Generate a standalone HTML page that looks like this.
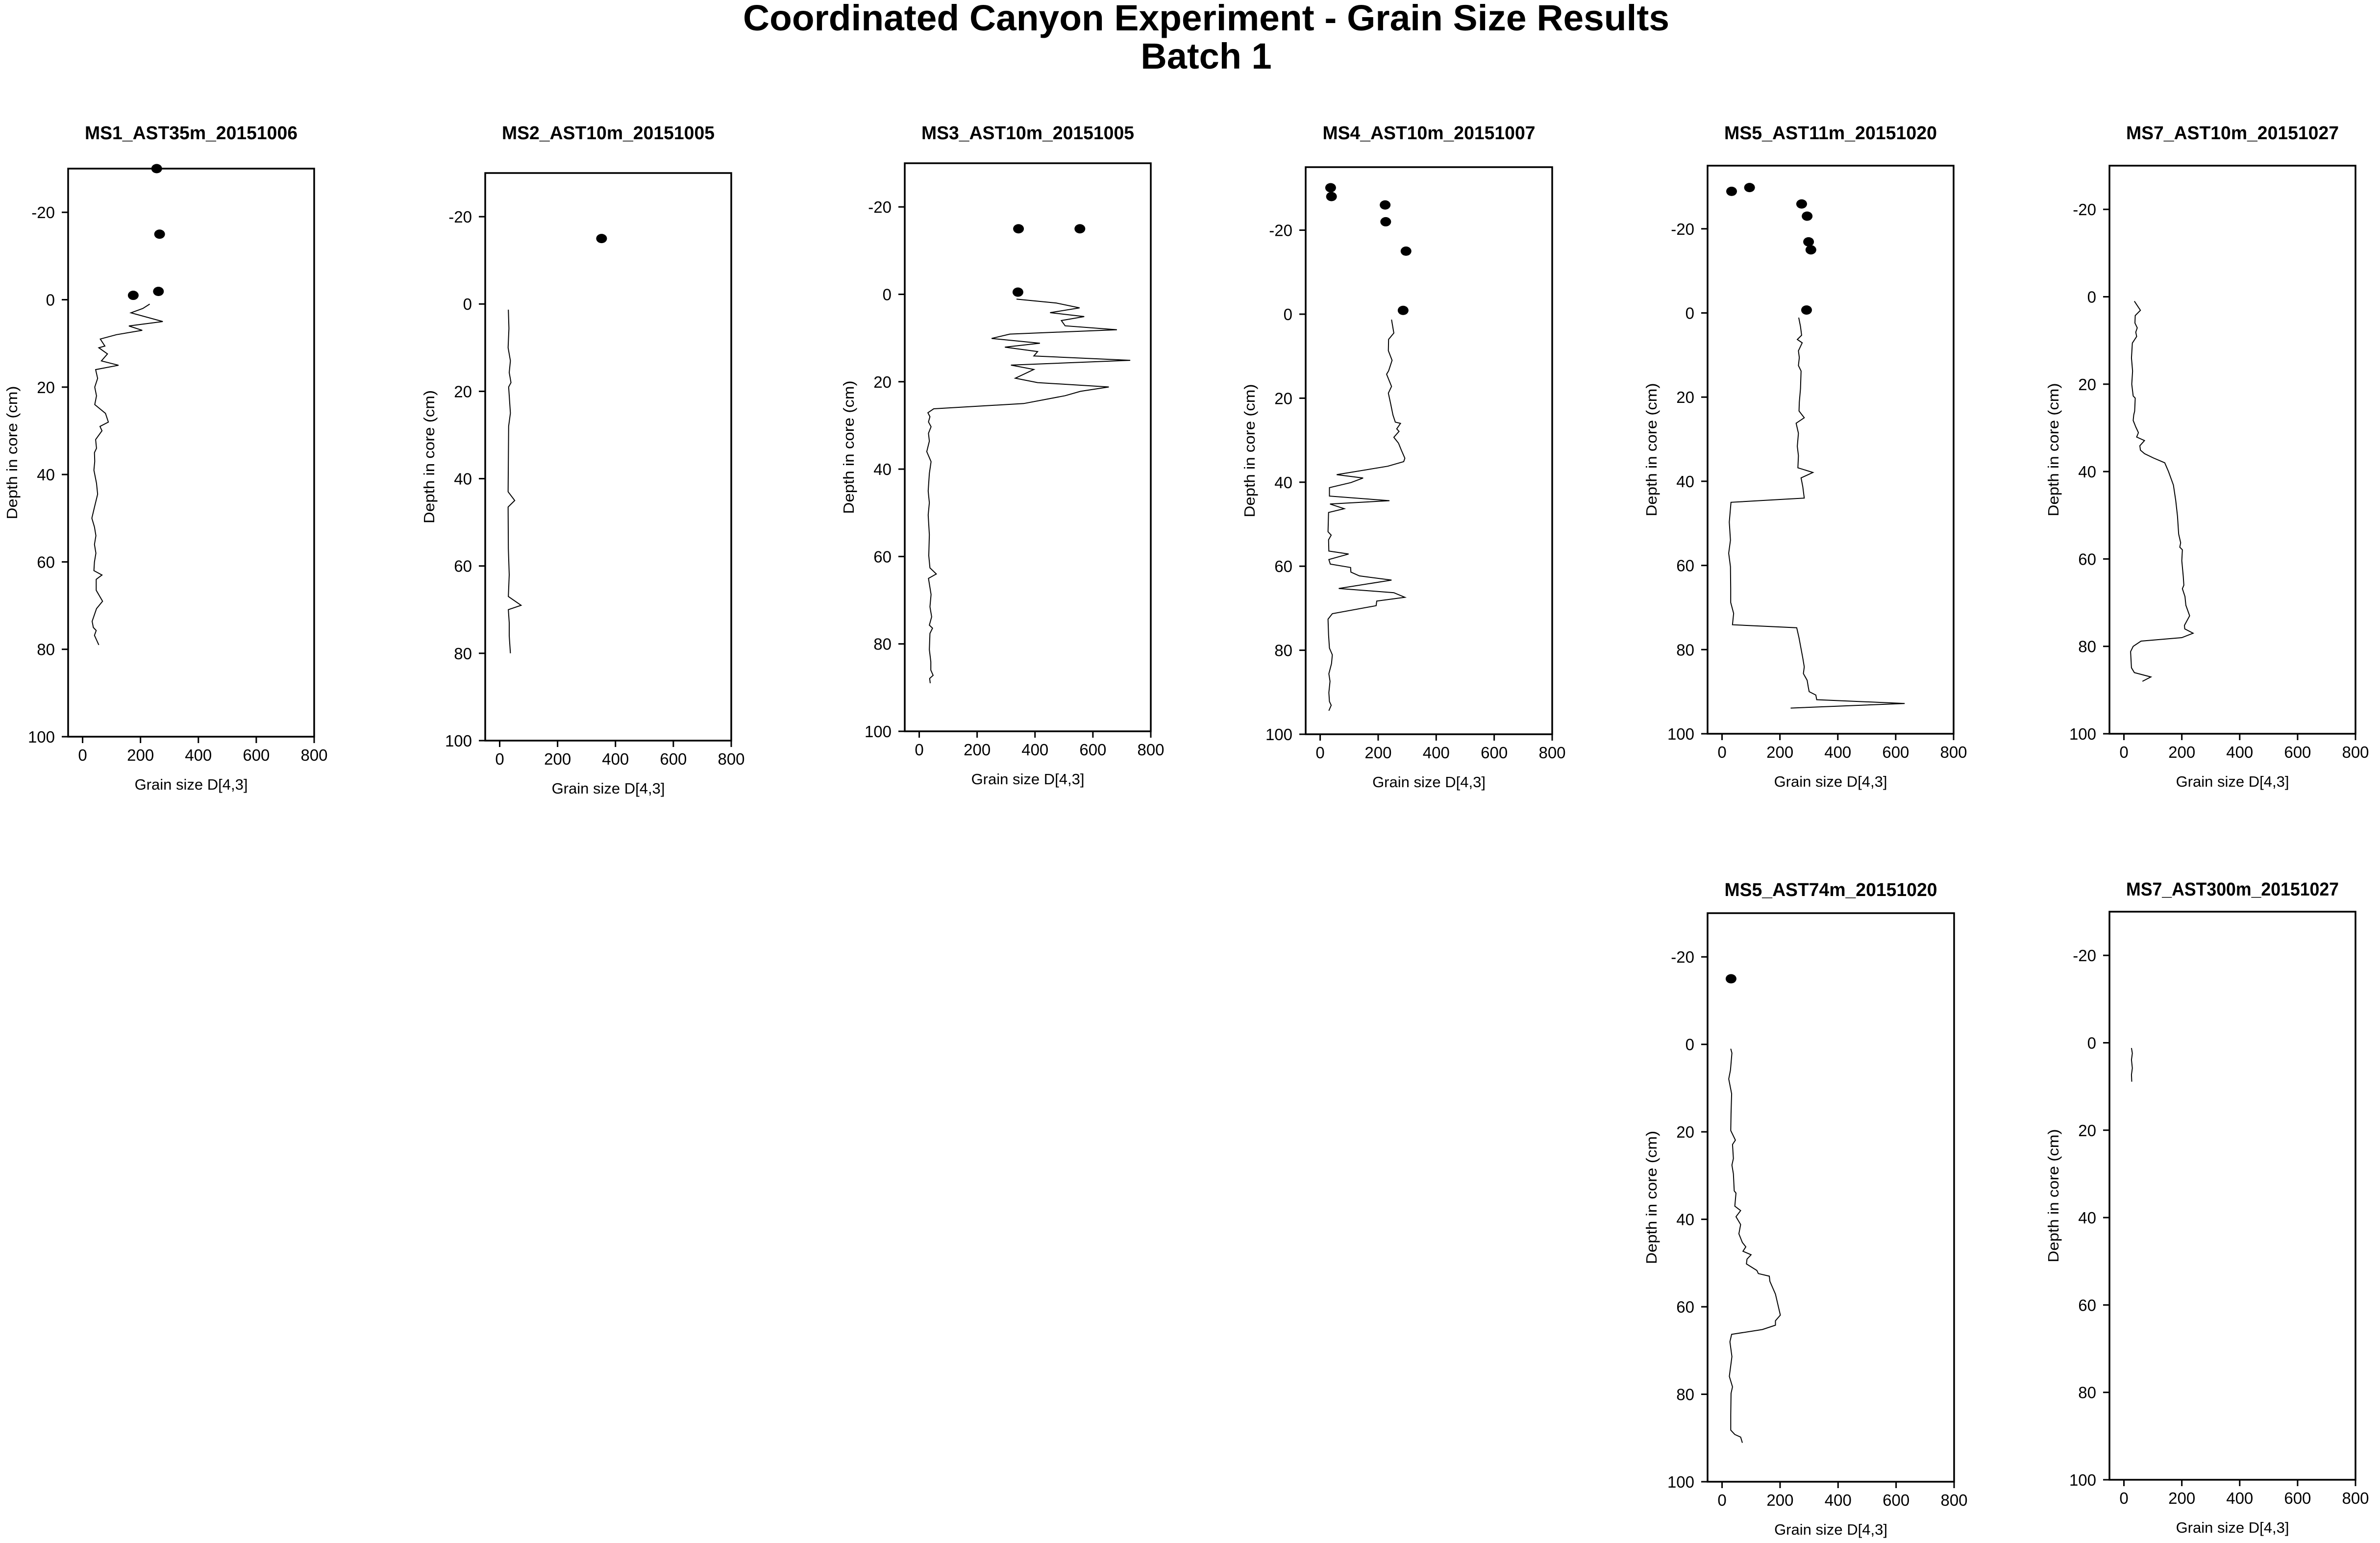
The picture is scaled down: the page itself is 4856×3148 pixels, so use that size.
<!DOCTYPE html>
<html><head><meta charset="utf-8"><title>Coordinated Canyon Experiment - Grain Size Results</title>
<style>html,body{margin:0;padding:0;background:#fff;}svg{display:block;}</style></head>
<body>
<svg id="chart" xmlns="http://www.w3.org/2000/svg" width="4856" height="3148" viewBox="0 0 4856 3148" font-family="Liberation Sans, Arial, sans-serif">
<rect x="0" y="0" width="4856" height="3148" fill="#fff"/>
<text x="2461" y="62" font-size="74" font-weight="bold" text-anchor="middle" textLength="1890" lengthAdjust="spacingAndGlyphs">Coordinated Canyon Experiment - Grain Size Results</text>
<text x="2461" y="140" font-size="74" font-weight="bold" text-anchor="middle">Batch 1</text>
</svg>
<script>
const xTicks = [0, 200, 400, 600, 800];
const yTicks = [-20, 0, 20, 40, 60, 80, 100];

const p1Size = [232,208,167,277,160,206,117,61,77,56,86,65,124,45,52,42,48,42,79,89,60,67,45,48,41,42,39,48,52,41,32,41,46,41,46,41,39,67,47,47,69,48,33,37,47,41,56];
const p1Depth = [1,2,3,5,6,7,8,9,10.6,11,12.4,14,15,16,18,20,22,24,26,28,29,30,32,34,35,37,39,42,44.5,47.5,50,52,54,56,58,60,62,63,64,66.5,69,70.7,73.6,75,75.7,76.8,79];
const p1DotSize = [256,266,262,175];
const p1DotDepth = [-30,-15,-1.9,-1];

const p2Size = [30,32,29,37,33,39,31,37,31,30,29,52,29,30,33,30,74,30,33,33,37];
const p2Depth = [1.3,5.6,10,13,15.7,18,19,25,28,36,43,45,46.5,56,62,67,69,70,73,76,80];
const p2DotSize = [352];
const p2DotDepth = [-15];

const p3Size = [336,474,554,452,570,491,504,683,313,250,417,296,409,396,729,317,396,332,409,655,557,504,361,50,30,37,32,41,32,35,26,41,35,31,35,31,35,33,37,59,32,41,37,43,35,46,37,35,40,40,48,36,38];
const p3Depth = [1.1,2,3.1,4.2,5.1,6,7.2,8.1,9.1,10.1,11.2,12.1,13.1,14.1,15.1,16.2,17.2,19.2,20.2,21.2,22.2,23.2,25,26.2,27.1,28,29.2,30.3,31.8,33.6,36,38.3,41,45,47.7,50.5,55,59.8,62.6,64,65,68.7,71.5,73.8,75.7,76.4,77.6,81.3,84.1,86,87.2,87.9,89];
const p3DotSize = [343,555,341];
const p3DotDepth = [-15,-15,-0.5];

const p4Size = [246,254,236,235,248,236,229,246,235,242,251,259,277,264,272,254,270,280,292,288,233,57,148,106,32,32,239,34,83,29,27,38,29,30,98,30,35,105,106,135,246,64,254,292,195,193,42,27,29,32,42,39,30,34,30,32,38,30];
const p4Depth = [1.3,4.5,6,8.7,11,13.5,14.3,17.2,18.8,21,24,25.7,26,27.3,27.9,29.3,30.7,32.4,34.3,35.1,36.2,38.2,39,40.1,41.3,43.3,44.4,45.2,46.3,47.2,51.8,52.6,53.7,56.4,57.1,58.4,59.5,60.3,61.4,62.3,63.3,65.3,66.3,67.4,68.3,69.4,71.3,72.6,76.3,79.5,81.1,83.2,85.6,87.4,90.1,92.2,93.1,94.4];
const p4DotSize = [36,39,224,226,296,286];
const p4DotDepth = [-30.1,-28,-26,-22,-15,-0.9];

const p5Size = [265,271,275,260,277,264,267,264,273,271,267,266,284,256,264,260,264,262,314,273,279,284,31,25,29,23,29,30,30,40,36,258,266,279,284,281,294,298,301,324,327,631,237];
const p5Depth = [1.1,3.2,5.3,6.3,7.1,9,10.6,12.5,13.8,18,21.2,23.3,24.9,26.2,28.6,31.7,33.9,36.8,37.9,39.2,41.3,44,45,49.7,54,57.1,60.3,65.6,68.8,71.4,74.1,74.8,77.2,82,84.1,85.7,87.3,88.9,90,90.8,91.9,92.8,93.9];
const p5DotSize = [33,95,275,294,299,307,292];
const p5DotDepth = [-28.9,-29.8,-25.9,-23,-16.9,-15,-0.7];

const p6Size = [36,57,39,38,46,41,44,29,26,30,27,32,39,37,34,32,41,50,44,71,55,57,71,102,141,154,171,179,185,189,196,193,202,200,205,207,202,211,214,227,209,210,239,200,59,32,23,26,36,93,64];
const p6Depth = [1,3.1,4.3,6,7.1,8.1,9.1,10.6,14,17,20,22.7,23.2,26.2,27,28.3,29.8,31.1,32.1,32.9,34.1,35.1,35.9,36.9,38,40,43.1,46.6,50.2,54.3,56.3,57.3,57.9,60.4,64,66,66.8,68.6,70.6,73,75.2,76,77,78,78.8,80,81.2,84.9,86,87,88];
const p6DotSize = [];
const p6DotDepth = [];

const p7Size = [30,34,29,23,33,31,30,46,36,39,34,39,42,48,44,64,48,64,58,70,82,72,100,86,84,120,125,163,165,184,201,184,184,139,33,27,34,25,36,31,30,30,44,64,70];
const p7Depth = [1,2,5.9,7.9,11.3,15.8,19.7,21.9,22.9,26.1,27.6,29.6,33.5,34,37,38,39.4,41.2,43.3,45.3,46.3,47.3,48.1,49.1,50.2,51.7,52.4,53,54.2,57.1,61.9,63.2,64.2,65.2,66.3,68,71.4,75.9,78.3,79.8,84.7,88.2,89.2,89.8,91.1];
const p7DotSize = [31];
const p7DotDepth = [-15];

const p8Size = [26,29,26,29,26,27];
const p8Depth = [1.2,2.4,3.9,5.8,7.3,8.9];
const p8DotSize = [];
const p8DotDepth = [];

const panelTitles = ["MS1_AST35m_20151006","MS2_AST10m_20151005","MS3_AST10m_20151005","MS4_AST10m_20151007","MS5_AST11m_20151020","MS7_AST10m_20151027","MS5_AST74m_20151020","MS7_AST300m_20151027"];
const panelLineSize = [p1Size,p2Size,p3Size,p4Size,p5Size,p6Size,p7Size,p8Size];
const panelLineDepth = [p1Depth,p2Depth,p3Depth,p4Depth,p5Depth,p6Depth,p7Depth,p8Depth];
const panelDotSize = [p1DotSize,p2DotSize,p3DotSize,p4DotSize,p5DotSize,p6DotSize,p7DotSize,p8DotSize];
const panelDotDepth = [p1DotDepth,p2DotDepth,p3DotDepth,p4DotDepth,p5DotDepth,p6DotDepth,p7DotDepth,p8DotDepth];
const panelDepthMin = [-30,-30,-30,-35,-35,-30,-30,-30];

const boxes = [
  {l:139,t:344,r:641,b:1503,tt:270},
  {l:990,t:353,r:1492,b:1511,tt:270},
  {l:1846,t:333,r:2348,b:1492,tt:270},
  {l:2664,t:341,r:3167,b:1498,tt:270},
  {l:3484,t:338,r:3986,b:1497,tt:270},
  {l:4304,t:338,r:4806,b:1497,tt:270},
  {l:3484,t:1863,r:3987,b:3023,tt:1814},
  {l:4304,t:1860,r:4806,b:3019,tt:1813}
];

const NS = "http://www.w3.org/2000/svg";
const svg = document.getElementById("chart");
function mk(tag, attrs, parent) {
  const e = document.createElementNS(NS, tag);
  for (const k in attrs) e.setAttribute(k, attrs[k]);
  (parent || svg).appendChild(e);
  return e;
}

boxes.forEach((bx, i) => {
  const g = mk("g", {});
  
  
  const dMin = panelDepthMin[i];
  const xs = v => bx.l + (v + 50) / 850 * (bx.r - bx.l);
  const ys = v => bx.t + (v - dMin) / (100 - dMin) * (bx.b - bx.t);

  const title = mk("text", {x:(bx.l+bx.r)/2, y:bx.tt+14, "font-size":38, "font-weight":"bold", "text-anchor":"middle", textLength:434, lengthAdjust:"spacingAndGlyphs"}, g);
  title.textContent = panelTitles[i];
  
  

  const frame = mk("rect", {x:bx.l, y:bx.t, width:bx.r-bx.l, height:bx.b-bx.t, fill:"none", stroke:"#000", "stroke-width":3.5}, g);
  
  

  yTicks.forEach(t => {
    const y = ys(t);
    const tk = mk("line", {x1:bx.l-13, x2:bx.l, y1:y, y2:y, stroke:"#000", "stroke-width":3}, g);
    
    
    const lb = mk("text", {x:bx.l-27, y:y+12, "font-size":33, "text-anchor":"end"}, g);
    lb.textContent = String(t);
    
    
  });
  xTicks.forEach(t => {
    const x = xs(t);
    const tk = mk("line", {x1:x, x2:x, y1:bx.b, y2:bx.b+13, stroke:"#000", "stroke-width":3}, g);
    
    
    const lb = mk("text", {x:x, y:bx.b+49, "font-size":33, "text-anchor":"middle"}, g);
    lb.textContent = String(t);
    
    
  });

  const xt = mk("text", {x:(bx.l+bx.r)/2, y:bx.b+108, "font-size":31, "text-anchor":"middle"}, g);
  xt.textContent = "Grain size D[4,3]";
  
  
  const cy = (bx.t + bx.b) / 2, cx = bx.l - 104;
  const yt = mk("text", {x:cx, y:cy, "font-size":31, "text-anchor":"middle", transform:"rotate(-90 "+cx+" "+cy+")", textLength:272, lengthAdjust:"spacingAndGlyphs"}, g);
  yt.textContent = "Depth in core (cm)";
  
  

  const sz = panelLineSize[i], dp = panelLineDepth[i];
  if (sz.length) {
    const pts = sz.map((v, j) => xs(v).toFixed(1) + "," + ys(dp[j]).toFixed(1)).join(" ");
    const pl = mk("polyline", {points:pts, fill:"none", stroke:"#000", "stroke-width":2, "stroke-linejoin":"miter"}, g);
    
    
  }
  const ds = panelDotSize[i], dd = panelDotDepth[i];
  ds.forEach((v, j) => {
    const c = mk("ellipse", {cx:xs(v), cy:ys(dd[j]), rx:11, ry:9.5, fill:"#000"}, g);
    
    
  });
});
</script>
</body></html>
